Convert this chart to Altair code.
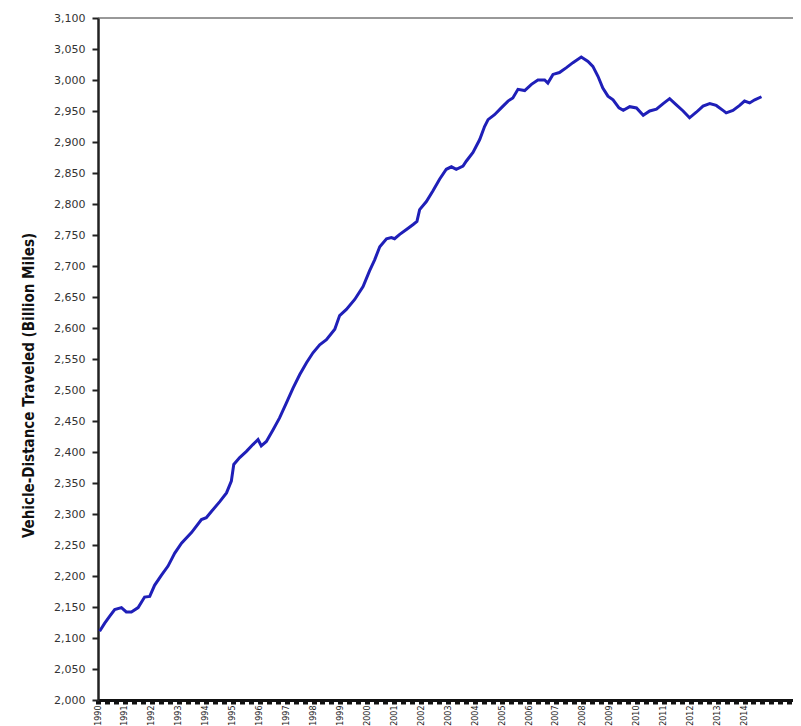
import altair as alt
import pandas as pd

# Vehicle-distance traveled (moving 12-month total, billion miles)
years = [
    1990.06, 1990.25, 1990.43, 1990.62, 1990.87, 1991.05, 1991.24, 1991.49, 1991.73, 1991.92,
    1992.10, 1992.35, 1992.60, 1992.85, 1993.10, 1993.47, 1993.84, 1994.02, 1994.21, 1994.52,
    1994.77, 1994.95, 1995.04, 1995.26, 1995.51, 1995.75, 1995.94, 1996.06, 1996.25, 1996.50,
    1996.74, 1996.99, 1997.24, 1997.49, 1997.74, 1997.98, 1998.23, 1998.48, 1998.79, 1998.97,
    1999.22, 1999.53, 1999.84, 2000.08, 2000.27, 2000.46, 2000.71, 2000.89, 2001.01, 2001.20,
    2001.45, 2001.70, 2001.84, 2001.94, 2002.19, 2002.43, 2002.68, 2002.93, 2003.12, 2003.30,
    2003.55, 2003.67, 2003.92, 2004.17, 2004.35, 2004.48, 2004.72, 2004.97, 2005.22, 2005.40,
    2005.59, 2005.84, 2006.09, 2006.33, 2006.58, 2006.70, 2006.89, 2007.13, 2007.39, 2007.63,
    2007.94, 2008.19, 2008.37, 2008.56, 2008.74, 2008.93, 2009.12, 2009.34, 2009.50, 2009.74,
    2009.99, 2010.24, 2010.48, 2010.73, 2010.98, 2011.22, 2011.47, 2011.72, 2011.96, 2012.21,
    2012.46, 2012.71, 2012.95, 2013.20, 2013.32, 2013.57, 2013.82, 2014.00, 2014.19, 2014.38,
    2014.63,
]
vmt = [
    2111, 2124, 2135, 2146, 2149, 2142, 2142, 2149, 2166, 2167,
    2185, 2201, 2216, 2237, 2253, 2270, 2291, 2294, 2304, 2320,
    2334, 2353, 2380, 2391, 2401, 2412, 2420, 2410, 2417, 2436,
    2455, 2479, 2503, 2525, 2544, 2560, 2573, 2581, 2598, 2620,
    2630, 2646, 2667, 2692, 2710, 2731, 2744, 2746, 2744, 2751,
    2759, 2767, 2772, 2791, 2804, 2821, 2840, 2856, 2860, 2856,
    2861, 2869, 2883, 2904, 2925, 2936, 2944, 2955, 2966, 2971,
    2985, 2983, 2993, 3000, 3000, 2995, 3009, 3012, 3020, 3028,
    3037, 3030, 3022, 3006, 2987, 2974, 2968, 2955, 2951, 2957,
    2955, 2943, 2950, 2953, 2962, 2970, 2960, 2950, 2939, 2948,
    2958, 2962, 2959, 2951, 2947, 2951, 2959, 2966, 2963, 2968,
    2973,
]

year_labels = list(range(1990, 2015))
tick_years = list(range(1990, 2016))
y_ticks = list(range(2000, 3101, 50))
x_ticks = [y + k / 3 for y in tick_years for k in range(3)]

df = pd.DataFrame({"vmt": vmt, "year": years})
top_df = pd.DataFrame({"vmt": [3100]})

x_scale = alt.Scale(domain=[1990, 2015.8], nice=False, zero=False)
y_scale = alt.Scale(domain=[2000, 3100], nice=False, zero=False)

y_axis = alt.Axis(
    values=y_ticks,
    format=",d",
    labelFontSize=11,
    labelFont="DejaVu Sans",
    labelColor="#333333",
    labelPadding=7,
    labelOverlap=False,
    labelFlush=False,
    grid=False,
    domainColor="#222222",
    domainWidth=2.5,
    tickColor="#222222",
    tickWidth=2,
    tickSize=6,
    title="Vehicle-Distance Traveled (Billion Miles)",
    titleFont="Liberation Sans Narrow, DejaVu Sans Condensed, sans-serif",
    titleFontSize=15,
    titleFontWeight="bold",
    titleColor="#111111",
    titleAngle=270,
    titleX=-70,
    titleY=367,
    titleAlign="center",
    titleBaseline="middle",
)

last_label = year_labels[-1]
x_axis = alt.Axis(
    values=x_ticks,
    labelExpr=(
        "abs(datum.value - round(datum.value)) < 0.01 && datum.value <= "
        + str(last_label + 0.01)
        + " ? '' + round(datum.value) : ''"
    ),
    labelAngle=270,
    labelFontSize=8,
    labelFont="DejaVu Sans",
    labelColor="#222222",
    labelPadding=1,
    labelOverlap=False,
    labelFlush=False,
    labelBound=False,
    grid=False,
    domainColor="#111111",
    domainWidth=3,
    tickColor="#111111",
    tickWidth=5,
    tickSize=4,
    title=None,
)

line = alt.Chart(df).mark_line(color="#1f1fb8", strokeWidth=3).encode(
    x=alt.X("year:Q", scale=x_scale, axis=x_axis),
    y=alt.Y("vmt:Q", scale=y_scale, axis=y_axis),
)

top_rule = alt.Chart(top_df).mark_rule(color="#333333", strokeWidth=1).encode(
    y=alt.Y("vmt:Q", scale=y_scale, axis=y_axis)
)

chart = (
    alt.layer(line, top_rule)
    .properties(
        width=695,
        height=682,
        autosize=alt.AutoSizeParams(type="none"),
        padding={"left": 90, "top": 10, "right": 0, "bottom": 30},
        background="white",
    )
    .configure_view(stroke=None)
)

chart.save("out.html", embed_options={"renderer": "svg", "actions": False})
